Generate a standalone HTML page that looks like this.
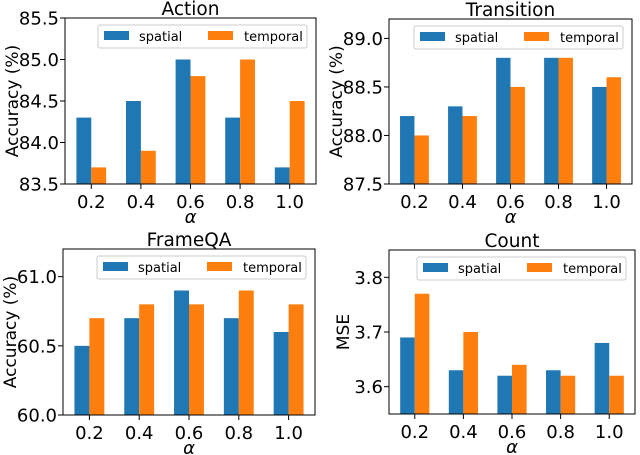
<!DOCTYPE html>
<html><head><meta charset="utf-8">
<style>
html,body{margin:0;padding:0;background:#fff;}
svg{display:block;font-family:"DejaVu Sans","Liberation Sans",sans-serif;}
</style></head>
<body>
<svg id="chart" width="640" height="455" viewBox="0 0 640 455"></svg>
<script>
const categories = ["0.2","0.4","0.6","0.8","1.0"];
const actionSpatial = [84.3,84.5,85.0,84.3,83.7];
const actionTemporal = [83.7,83.9,84.8,85.0,84.5];
const transitionSpatial = [88.2,88.3,88.8,88.8,88.5];
const transitionTemporal = [88.0,88.2,88.5,88.8,88.6];
const frameqaSpatial = [60.5,60.7,60.9,60.7,60.6];
const frameqaTemporal = [60.7,60.8,60.8,60.9,60.8];
const countSpatial = [3.69,3.63,3.62,3.63,3.68];
const countTemporal = [3.77,3.70,3.64,3.62,3.62];
const actionTicks = ["83.5","84.0","84.5","85.0","85.5"];
const transitionTicks = ["87.5","88.0","88.5","89.0"];
const frameqaTicks = ["60.0","60.5","61.0"];
const countTicks = ["3.6","3.7","3.8"];

const panels = [
 {name:"action",title:"Action",ylabel:"Accuracy (%)",s:actionSpatial,t:actionTemporal,ticks:actionTicks,ymin:83.5,ymax:85.5,L:65,R:316,T:18,B:184},
 {name:"transition",title:"Transition",ylabel:"Accuracy (%)",s:transitionSpatial,t:transitionTemporal,ticks:transitionTicks,ymin:87.5,ymax:89.2,L:389,R:632,T:19,B:184},
 {name:"frameqa",title:"FrameQA",ylabel:"Accuracy (%)",s:frameqaSpatial,t:frameqaTemporal,ticks:frameqaTicks,ymin:60.0,ymax:61.2,L:63,R:315,T:249,B:415},
 {name:"count",title:"Count",ylabel:"MSE",s:countSpatial,t:countTemporal,ticks:countTicks,ymin:3.55,ymax:3.85,L:389,R:635,T:250,B:414}
];
const NS="http://www.w3.org/2000/svg";
const svg=document.getElementById('chart');
function mk(tag,attrs,parent,text){const e=document.createElementNS(NS,tag);for(const k in attrs)e.setAttribute(k,attrs[k]);if(text!==undefined)e.textContent=text;parent.appendChild(e);return e;}
panels.forEach(p=>{
 const g=mk('g',{},svg);
 
 
 const xs=v=>p.L+(v+0.53)/5.06*(p.R-p.L);
 const ys=v=>p.B-(v-p.ymin)/(p.ymax-p.ymin)*(p.B-p.T);
 categories.forEach((c,i)=>{
  const x0=xs(i-0.3),x1=xs(i),x2=xs(i+0.3);
  const b1=mk('rect',{x:x0,y:ys(p.s[i]),width:x1-x0,height:p.B-ys(p.s[i]),fill:'#1f77b4'},g);
  
  
  const b2=mk('rect',{x:x1,y:ys(p.t[i]),width:x2-x1,height:p.B-ys(p.t[i]),fill:'#ff7f0e'},g);
  
  
  mk('line',{x1:xs(i),x2:xs(i),y1:p.B,y2:p.B+5,stroke:'#000','stroke-width':1},g);
  const tl=mk('text',{x:xs(i),y:p.B+24,'font-size':18,'text-anchor':'middle'},g,c);
  
  
 });
 p.ticks.forEach(t=>{
  const y=ys(parseFloat(t));
  mk('line',{x1:p.L-5,x2:p.L,y1:y,y2:y,stroke:'#000','stroke-width':1},g);
  const tl=mk('text',{x:p.L-6,y:y+6.5,'font-size':18,'text-anchor':'end'},g,t);
  
  
 });
 const fr=mk('rect',{x:p.L,y:p.T,width:p.R-p.L,height:p.B-p.T,fill:'none',stroke:'#000','stroke-width':1},g);
 
 
 const ti=mk('text',{x:(p.L+p.R)/2,y:p.T-3,'font-size':18.5,'text-anchor':'middle'},g,p.title);
 
 
 const xl=mk('text',{x:(p.L+p.R)/2,y:p.B+39,'font-size':18,'font-style':'italic','text-anchor':'middle'},g,'α');
 
 
 const yc=(p.T+p.B)/2, yx=p.name==='count'?p.L-40:p.L-47;
 const yl=mk('text',{x:yx,y:yc,'font-size':17,'text-anchor':'middle',transform:'rotate(-90 '+yx+' '+yc+')'},g,p.ylabel);
 
 
 const lg=mk('g',{},g);
 
 
 const lx=p.R-9-209, ly=p.T+7;
 mk('rect',{x:lx,y:ly,width:209,height:23,rx:2,fill:'#fff','fill-opacity':0.8,stroke:'#ccc','stroke-width':1},lg);
 const e1=mk('g',{},lg);
 
 
 mk('rect',{x:lx+6,y:ly+6,width:25,height:9,fill:'#1f77b4'},e1);
 mk('text',{x:lx+41,y:ly+16,'font-size':13},e1,'spatial');
 const e2=mk('g',{},lg);
 
 
 mk('rect',{x:lx+110,y:ly+6,width:25,height:9,fill:'#ff7f0e'},e2);
 mk('text',{x:lx+146,y:ly+16,'font-size':13},e2,'temporal');
});
</script>
</body></html>
